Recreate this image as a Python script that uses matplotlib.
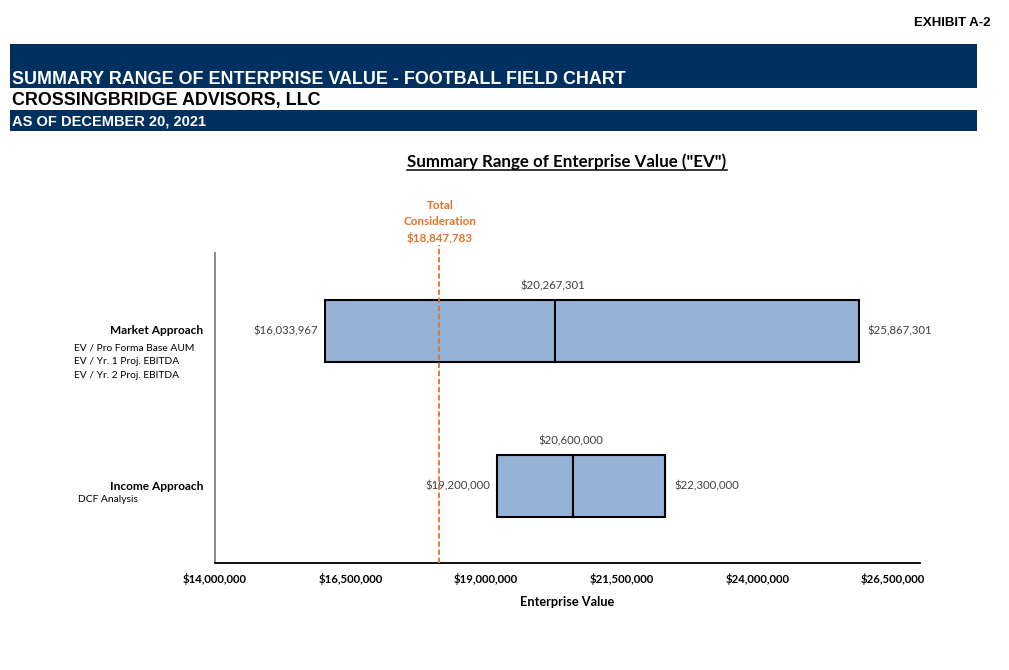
import matplotlib

matplotlib.use("Agg")
import matplotlib.pyplot as plt
from matplotlib.patches import Rectangle
from matplotlib.lines import Line2D

# values
approaches = ["Market Approach", "Income Approach"]
sub_labels = [
    ["EV / Pro Forma Base AUM", "EV / Yr. 1 Proj. EBITDA", "EV / Yr. 2 Proj. EBITDA"],
    ["DCF Analysis"],
]
low = [16033967, 19200000]
mid = [20267301, 20600000]
high = [25867301, 22300000]
y_pos = [0.75, 0.25]

consideration = 18847783
consideration_line_x = 18130000  # where the dashed line actually sits in the picture

x_ticks = [14000000, 16500000, 19000000, 21500000, 24000000, 26500000]

NAVY = "#00305f"
BAR = "#95b3d7"
ORANGE = "#e0742a"
LABEL = "#404040"
HEAD = ["Liberation Sans Narrow", "Liberation Sans", "DejaVu Sans"]
BODY = ["Lato", "DejaVu Sans"]

W, H = 1009, 670
fig = plt.figure(figsize=(W / 100, H / 100), dpi=100)


def fx(px):
    return px / W


def fy(py):
    return 1 - py / H


# header bands
fig.patches.append(Rectangle((fx(10), fy(88)), fx(967), 44 / H, transform=fig.transFigure,
                             facecolor=NAVY, edgecolor="none"))
fig.patches.append(Rectangle((fx(10), fy(131)), fx(967), 21 / H, transform=fig.transFigure,
                             facecolor=NAVY, edgecolor="none"))
fig.text(fx(990), fy(23), "EXHIBIT A-2", ha="right", va="center", family=HEAD,
         fontweight="bold", fontsize=9.5)
fig.text(fx(12), fy(79), "SUMMARY RANGE OF ENTERPRISE VALUE - FOOTBALL FIELD CHART",
         ha="left", va="center", color="white", family=HEAD, fontweight="bold", fontsize=12.9)
fig.text(fx(12), fy(100), "CROSSINGBRIDGE ADVISORS, LLC", ha="left", va="center",
         color="black", family=HEAD, fontweight="bold", fontsize=12.9)
fig.text(fx(12), fy(121), "AS OF DECEMBER 20, 2021", ha="left", va="center",
         color="white", family=HEAD, fontweight="bold", fontsize=10.5)

# chart title, underlined
title = fig.text(fx(567), fy(162), 'Summary Range of Enterprise Value ("EV")', ha="center",
                 va="center", family=BODY, fontweight="bold", fontsize=12.2)
fig.canvas.draw()
bb = title.get_window_extent().transformed(fig.transFigure.inverted())
fig.lines.append(Line2D([bb.x0, bb.x1], [bb.y0 + 0.001, bb.y0 + 0.001], transform=fig.transFigure,
                        color="black", linewidth=1.1))

ax = fig.add_axes([fx(215), fy(563), (920 - 215) / W, (563 - 253) / H])
ax.set_xlim(14000000, 27000000)
ax.set_ylim(0, 1)

for i in range(len(approaches)):
    ax.barh(y_pos[i], mid[i] - low[i], left=low[i], height=0.2, color=BAR,
            edgecolor="black", linewidth=1.5, zorder=2)
    ax.barh(y_pos[i], high[i] - mid[i], left=mid[i], height=0.2, color=BAR,
            edgecolor="black", linewidth=1.5, zorder=2)
    ax.annotate(f"${low[i]:,}", (low[i], y_pos[i]), xytext=(-7, 0), textcoords="offset pixels",
                ha="right", va="center", color=LABEL, family=BODY, fontsize=8.2)
    ax.annotate(f"${high[i]:,}", (high[i], y_pos[i]), xytext=(9, 0), textcoords="offset pixels",
                ha="left", va="center", color=LABEL, family=BODY, fontsize=8.2)
    ax.annotate(f"${mid[i]:,}", (mid[i], y_pos[i] + 0.1), xytext=(-2, 14), textcoords="offset pixels",
                ha="center", va="center", color=LABEL, family=BODY, fontsize=8.2)

# dashed consideration line
ax.axvline(consideration_line_x, ymin=0, ymax=1.026, color=ORANGE, linestyle=(0, (3, 1.5)),
           linewidth=1.3, clip_on=False, zorder=3)
fig.text(fx(440), fy(222), f"Total\nConsideration\n${consideration:,}",
         ha="center", va="center", color=ORANGE,
         family=BODY, fontweight="bold", fontsize=8.4, linespacing=1.55)

# category labels
for i, name in enumerate(approaches):
    ax.text(fx(203), fy(331 if i == 0 else 486), name, transform=fig.transFigure, ha="right",
            va="center", family=BODY, fontweight="bold", fontsize=8.6)
    x0 = 74 if i == 0 else 78
    y0 = 348 if i == 0 else 499
    for j, s in enumerate(sub_labels[i]):
        ax.text(fx(x0), fy(y0 + 14 * j), s, transform=fig.transFigure, ha="left", va="center",
                family=BODY, fontsize=7.4)

ax.set_xticks(x_ticks)
ax.set_xticklabels([f"${t:,}" for t in x_ticks], family=BODY, fontweight="bold", fontsize=8.2)
ax.tick_params(axis="x", length=0, pad=7)
ax.set_yticks([])
ax.set_xlabel("Enterprise Value", family=BODY, fontweight="bold", fontsize=9.2, labelpad=8)

for s in ["top", "right"]:
    ax.spines[s].set_visible(False)
ax.spines["left"].set_color("#808080")
ax.spines["left"].set_linewidth(1.3)
ax.spines["bottom"].set_color("black")
ax.spines["bottom"].set_linewidth(1.3)

fig.savefig("out.png", dpi=100)
